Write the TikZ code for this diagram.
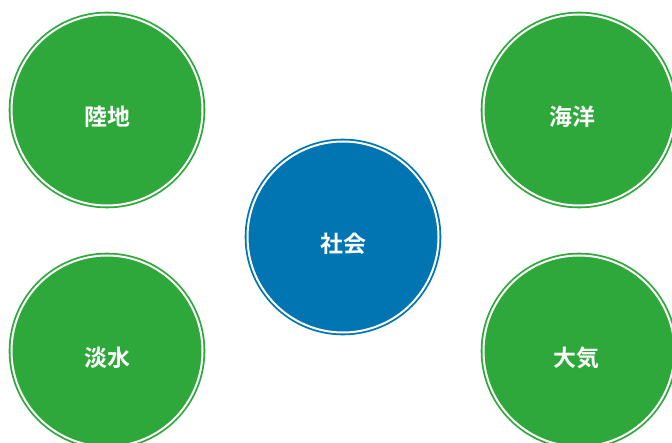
\documentclass[tikz,border=0pt]{standalone}
\usepackage{fontspec}
\newfontfamily\cjk{Noto Sans CJK JP}[BoldFont={* Bold}]
\definecolor{leaf}{HTML}{2EA83A}
\definecolor{sea}{HTML}{0075B2}
\tikzset{
  ball/.style={circle, minimum size=191bp, inner sep=0pt, fill=#1, text=white,
    font=\cjk\bfseries\fontsize{23}{26}\selectfont,
    text height=31bp, text depth=0bp,
    double distance=2bp, draw=#1, line width=1.8bp, double=white},
}
\begin{document}
\begin{tikzpicture}[x=1bp,y=-1bp]
\useasboundingbox (0,0) rectangle (672,443);
\node[ball=leaf] (land) at (107,110) {陸地};
\node[ball=leaf] (ocean) at (579,110) {\hspace*{-14bp}海洋};
\node[ball=leaf] (fresh) at (107,351) {淡水};
\node[ball=leaf] (air) at (579,351) {\hspace*{-6bp}大気};
\node[ball=sea] (society) at (343,237) {社会};
\end{tikzpicture}
\end{document}
